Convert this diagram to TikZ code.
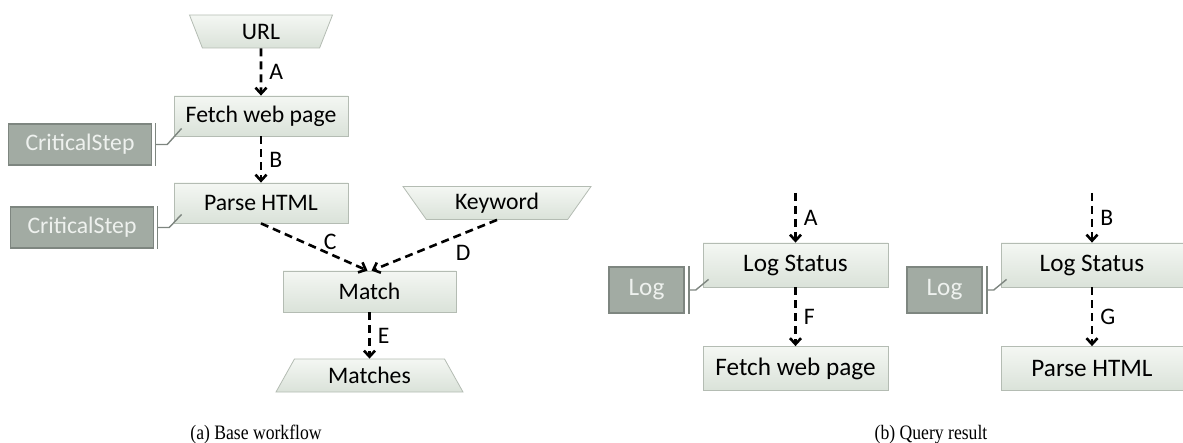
\documentclass[tikz,border=0pt]{standalone}
\usepackage{fontspec}
\setmainfont{Carlito}
\newfontfamily\capfont[FakeStretch=0.86]{Liberation Serif}
\usetikzlibrary{arrows.meta}
\usetikzlibrary{shapes.geometric}

\definecolor{boxtop}{HTML}{F4F7F3}
\definecolor{boxbot}{HTML}{DAE2D9}
\definecolor{boxline}{HTML}{B4BCB3}
\definecolor{tagfill}{HTML}{A2ABA3}
\definecolor{tagline}{HTML}{7E8680}
\definecolor{tagtext}{HTML}{EEF1EE}

\begin{document}
\begin{tikzpicture}[x=1pt,y=-1pt,
	taskbox/.style={rectangle,draw=boxline,line width=0.8pt,top color=boxtop,bottom color=boxbot,minimum width=174pt,minimum height=40pt,inner sep=0pt,font=\fontsize{23.7}{28}\selectfont},
	bigtask/.style={taskbox,minimum width=185pt,minimum height=44pt,font=\fontsize{25.2}{30}\selectfont},
	portbox/.style={trapezium,trapezium stretches body,draw=boxline,line width=0.8pt,top color=boxtop,bottom color=boxbot,minimum height=33pt,inner sep=0pt,font=\fontsize{23.7}{28}\selectfont},
	tagbox/.style={rectangle,draw=tagline,line width=1.5pt,fill=tagfill,text=tagtext,minimum width=143pt,minimum height=41pt,inner sep=0pt,font=\fontsize{23.7}{28}\selectfont},
	logtag/.style={tagbox,minimum width=75pt,minimum height=46pt,font=\fontsize{25.2}{30}\selectfont},
	flow/.style={line width=2.6pt,dash pattern=on 8pt off 5pt,-{Straight Barb[length=6pt,width=11pt]}},
	lbl/.style={inner sep=1pt,font=\fontsize{23.7}{28}\selectfont},
	bracket/.style={draw=tagline,line width=1.5pt},
	hook/.style={draw=tagline,line width=1.4pt},
	caption/.style={anchor=base,font=\capfont\fontsize{20.5}{24}\selectfont}
	]
		\useasboundingbox (0,0) rectangle (1183,443);

		\node[portbox,shape border rotate=180,trapezium left angle=50,trapezium right angle=50,minimum width=143pt] (url) at (261,31.5) {URL};
		\node[taskbox] (fetch) at (261,116) {Fetch web page};
		\node[tagbox] (crit1) at (80,144.5) {CriticalStep};
		\node[taskbox] (parse) at (261,203) {Parse HTML};
		\node[tagbox] (crit2) at (82,227.5) {CriticalStep};
		\node[portbox,shape border rotate=180,trapezium left angle=41,trapezium right angle=41,minimum width=188pt] (keyword) at (497,203) {Keyword};
		\node[taskbox,minimum width=173pt,minimum height=41pt] (match) at (369.5,291.5) {Match};
		\node[portbox,trapezium left angle=42,trapezium right angle=42,minimum width=187pt] (matches) at (369.5,375.5) {Matches};

		\draw[flow] (url) -- node[lbl,right=6pt] (lA) {A} (fetch);
		\draw[flow] (fetch) -- node[lbl,right=6pt] (lB) {B} (parse);
		\draw[flow] (parse.south) -- node[lbl,pos=.65,above=2pt] (lC) {C} ([xshift=-2pt]match.north);
		\draw[flow] (keyword.south) -- node[lbl,pos=.27,below=9pt] (lD) {D} ([xshift=2pt]match.north);
		\draw[flow] (match) -- node[lbl,right=6pt] (lE) {E} (matches);

		\draw[bracket] ([xshift=3pt]crit1.north east) -- ([xshift=3pt]crit1.south east);
		\draw[hook] ([xshift=3pt]crit1.east) -- ++(12,0) -- ([xshift=8pt,yshift=8pt]fetch.south west);
		\draw[bracket] ([xshift=3pt]crit2.north east) -- ([xshift=3pt]crit2.south east);
		\draw[hook] ([xshift=3pt]crit2.east) -- ++(12,0) -- ([xshift=8pt,yshift=9pt]parse.south west);

		\node[bigtask] (status1) at (795.5,265) {Log Status};
		\node[logtag] (log1) at (646.5,290) {Log};
		\node[bigtask] (fetch2) at (795.5,368.5) {Fetch web page};
		\coordinate (inA) at (795.5,193);
		\draw[flow] (inA) -- node[lbl,right=6pt] (lA2) {A} (status1);
		\draw[flow] (status1) -- node[lbl,right=6pt] (lF) {F} (fetch2);
		\draw[bracket] ([xshift=4pt]log1.north east) -- ([xshift=4pt]log1.south east);
		\draw[hook] ([xshift=4pt]log1.east) -- ++(7,0) -- ([xshift=6pt,yshift=8pt]status1.south west);

		\node[bigtask,minimum width=182pt] (status2) at (1092,265) {Log Status};
		\node[logtag] (log2) at (944.5,290) {Log};
		\node[bigtask,minimum width=182pt] (parse2) at (1092,368.5) {Parse HTML};
		\coordinate (inB) at (1092,193);
		\draw[flow] (inB) -- node[lbl,right=6pt] (lB2) {B} (status2);
		\draw[flow] (status2) -- node[lbl,right=6pt] (lG) {G} (parse2);
		\draw[bracket] ([xshift=4pt]log2.north east) -- ([xshift=4pt]log2.south east);
		\draw[hook] ([xshift=4pt]log2.east) -- ++(7,0) -- ([xshift=6pt,yshift=8pt]status2.south west);

		\node[caption] (capa) at (256,439) {(a) Base workflow};
		\node[caption] (capb) at (931,439) {(b) Query result};
	\end{tikzpicture}
\end{document}
